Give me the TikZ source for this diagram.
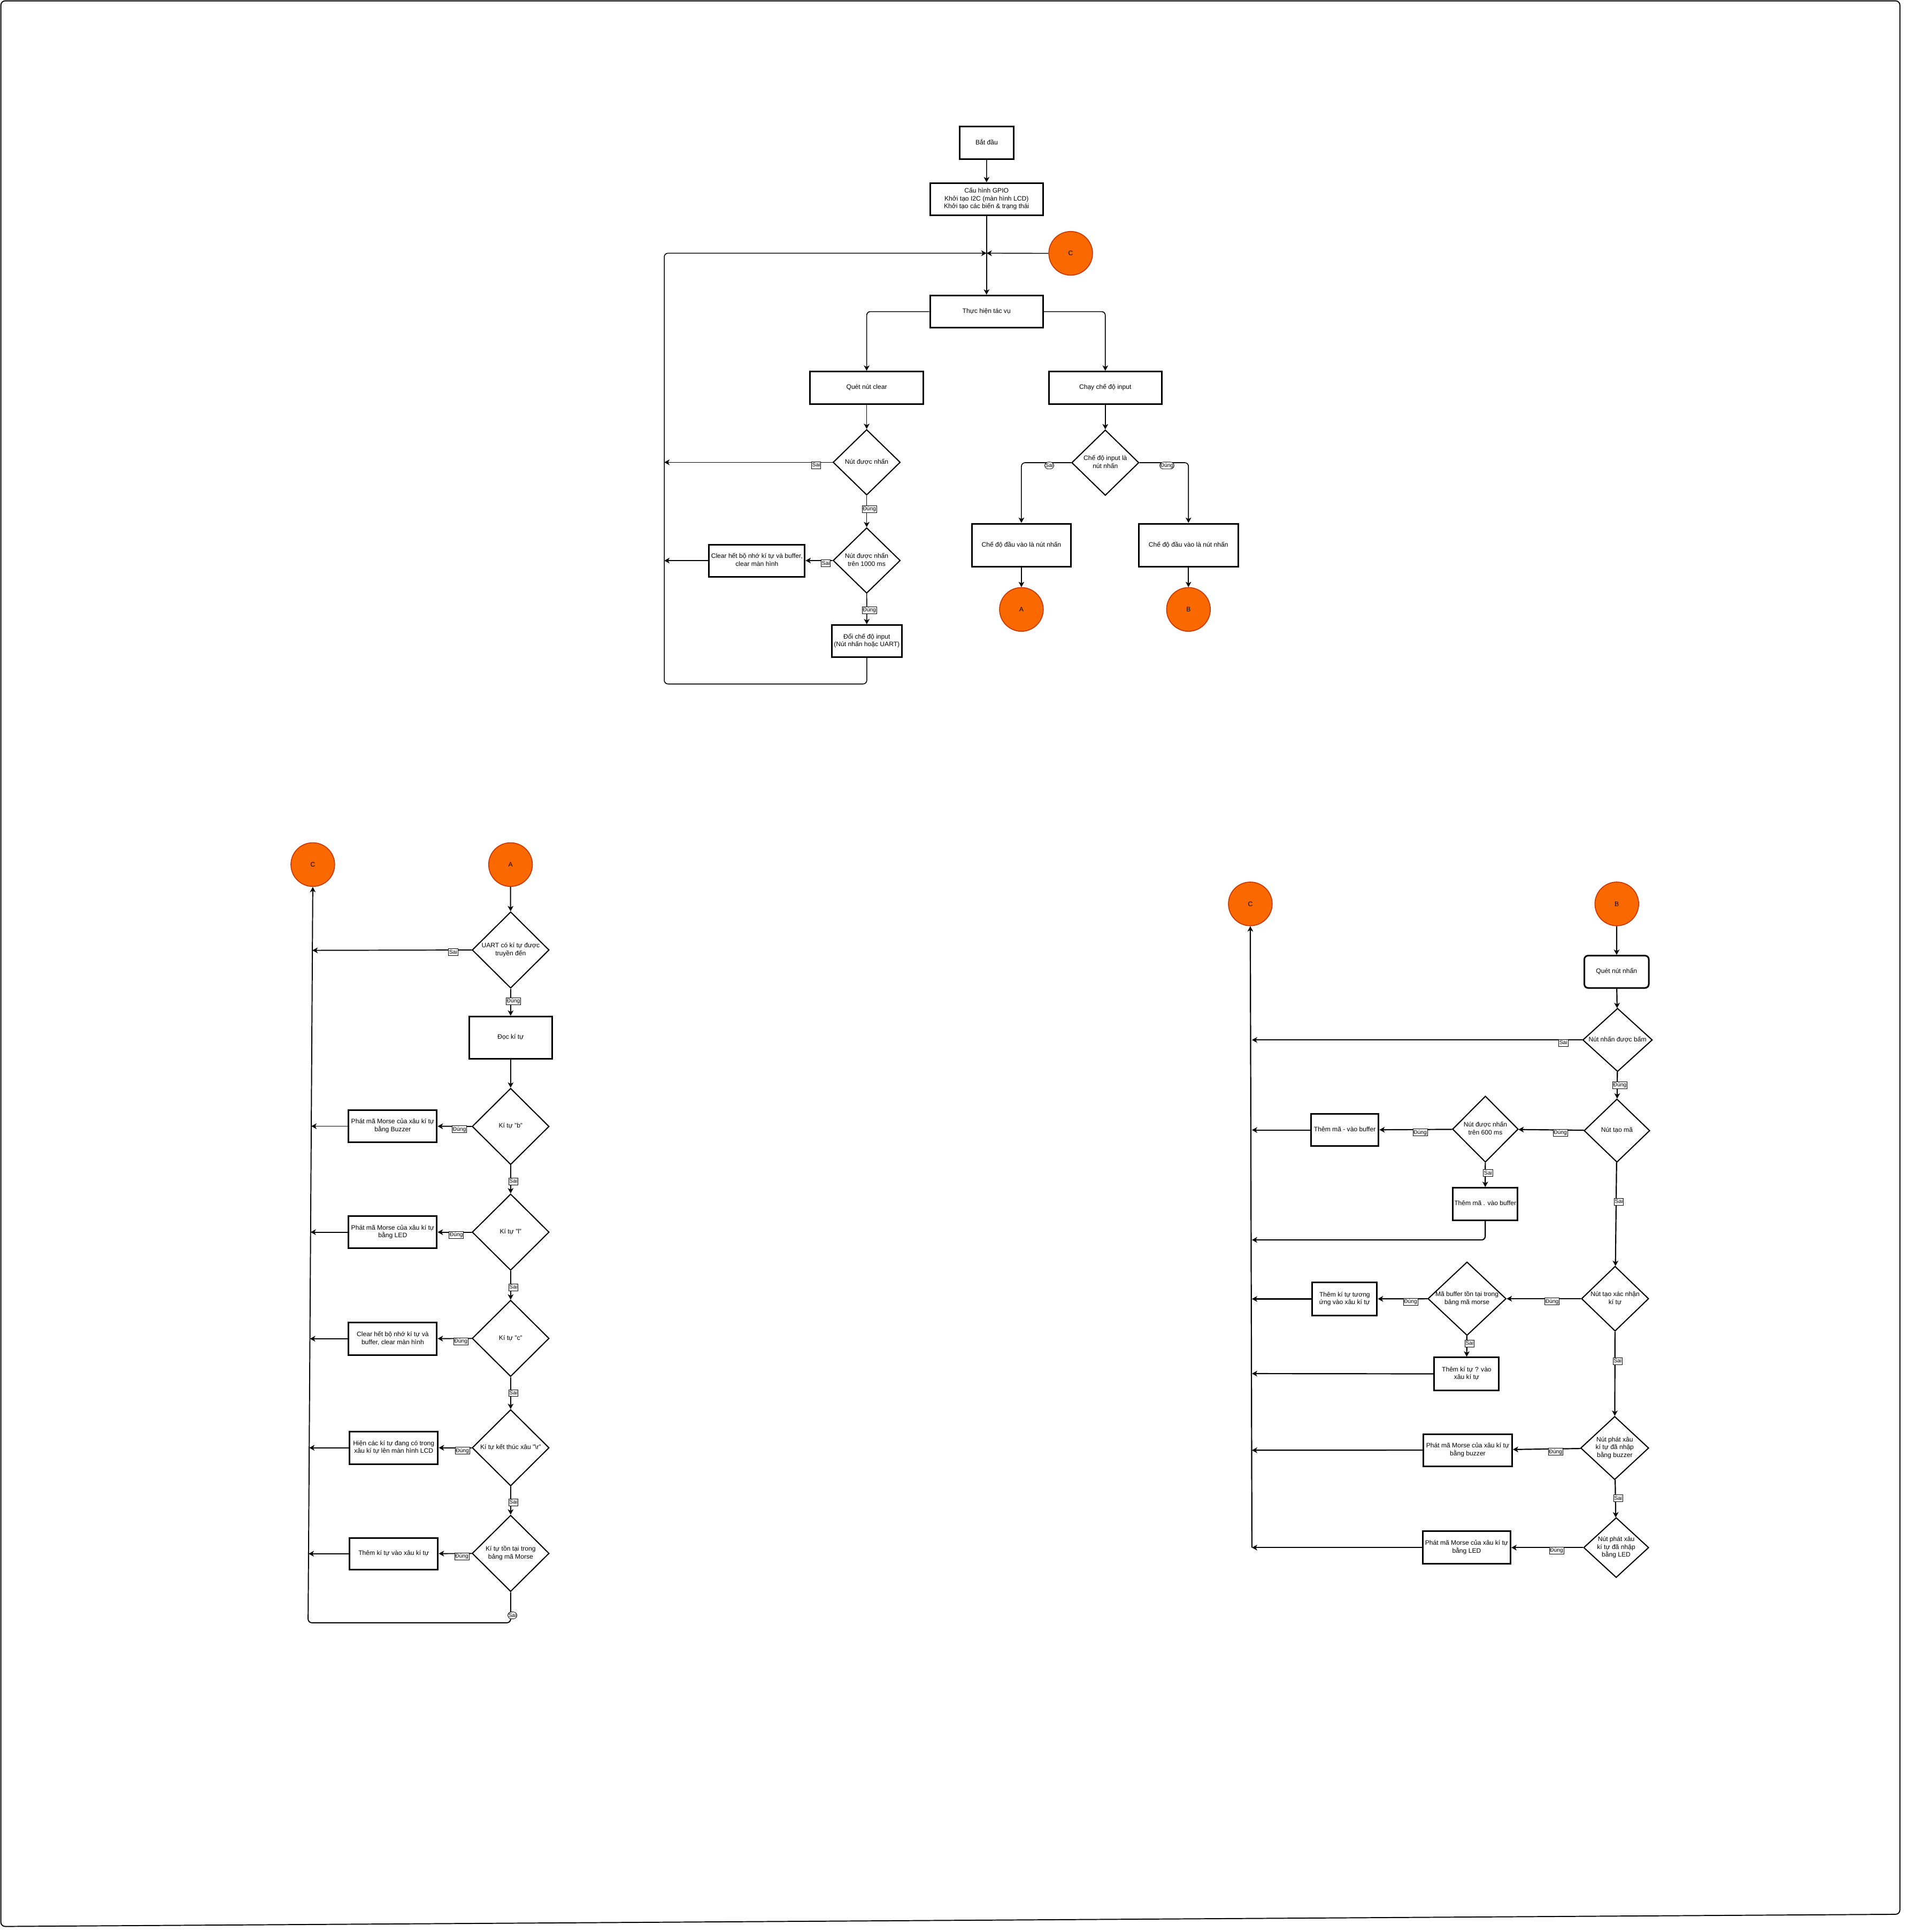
\documentclass[tikz,border=0pt]{standalone}
\usepackage{fontspec}
\setmainfont{Liberation Sans}
\usetikzlibrary{shapes.geometric,arrows.meta,calc}

\definecolor{corange}{HTML}{FA6800}
\definecolor{cbord}{HTML}{C73500}

% centred multi-line text of zero width, so shapes keep their set size
\newcommand{\ntx}[1]{\makebox[0pt]{\begin{tabular}{@{}c@{}}#1\end{tabular}}}

\tikzset{
  base/.style={font=\fontsize{5.25}{6.3}\selectfont, inner sep=0pt},
  box/.style={base, draw, line width=1.3pt, fill=white},
  rbox/.style={box, rounded corners=3pt},
  diam/.style={base, diamond, draw, line width=0.9pt, fill=white},
  circ/.style={base, circle, draw=cbord, fill=corange, line width=0.7pt, minimum size=35.5pt},
  arr/.style={-{Stealth[length=4.3pt,width=4.6pt,inset=1.2pt]}, line width=0.7pt},
  arrB/.style={arr, line width=0.85pt},
  arrR/.style={arr, line width=0.95pt},
  lbl/.style={draw, fill=white, line width=0.35pt, inner sep=0.5pt,
    text height=3.6pt, text depth=1.0pt, font=\fontsize{4.5}{5}\selectfont},
  hl/.style={lbl, yshift=-2.3pt},
  vl/.style={lbl, xshift=2.2pt},
}

\begin{document}
\begin{tikzpicture}[x=1pt, y=-1pt]
\useasboundingbox (0,0) rectangle (1547,1568);

% outer frame
\draw[line width=0.85pt] (0.7,0.7) [rounded corners=3.5pt] -- (1542.2,0.7) -- (1542.2,1553.6) -- (0.7,1563.5) -- cycle;

% ---------------- main loop ----------------
\node[box, minimum width=43.8pt, minimum height=26.4pt] (start) at (800.9,116) {\ntx{Bắt đầu}};
\node[box, minimum width=91.7pt, minimum height=26.2pt] (cfg) at (800.8,161.7)
  {\ntx{Cấu hình GPIO\\Khởi tạo I2C (màn hình LCD)\\Khởi tạo các biến \& trạng thái}};
\node[circ] (cT) at (869.1,205.6) {C};
\node[box, minimum width=91.7pt, minimum height=26.2pt] (thuc) at (800.8,252.9) {\ntx{Thực hiện tác vụ}};
\node[box, minimum width=91.7pt, minimum height=26.3pt] (quet) at (703.5,314.7) {\ntx{Quét nút clear}};
\node[box, minimum width=91.5pt, minimum height=26.3pt] (chay) at (897.2,314.7) {\ntx{Chạy chế độ input}};
\node[diam, minimum width=54.6pt, minimum height=53.2pt] (d1) at (703.5,375.2) {\ntx{Nút được nhấn}};
\node[diam, minimum width=54.6pt, minimum height=53.2pt] (d2) at (703.5,454.9) {\ntx{Nút được nhấn\\trên 1000 ms}};
\node[box, minimum width=77.6pt, minimum height=26pt] (clr) at (614.4,455) {\ntx{Clear hết bộ nhớ kí tự và buffer,\\clear màn hình}};
\node[box, minimum width=56.9pt, minimum height=26pt] (doi) at (703.6,520.3) {\ntx{Đổi chế độ input\\(Nút nhấn hoặc UART)}};
\node[diam, minimum width=54.6pt, minimum height=53.2pt] (d3) at (897.2,375.5) {\ntx{Chế độ input là\\nút nhấn}};
\node[box, minimum width=80.5pt, minimum height=35pt] (lb) at (829.1,442.5) {\ntx{Chế độ đầu vào là nút nhấn}};
\node[box, minimum width=80.5pt, minimum height=35pt] (rb) at (964.7,442.5) {\ntx{Chế độ đầu vào là nút nhấn}};
\node[circ] (cA) at (829.1,494.6) {A};
\node[circ] (cB) at (964.7,494.6) {B};

\coordinate (J) at (800.8,205.5);
\coordinate (lpA) at (703.6,555.1);
\coordinate (lpB) at (539.2,555.1);
\coordinate (lpC) at (539.2,205.5);
\coordinate (t1) at (539.2,375.2);
\coordinate (t2) at (539.2,455);

\draw[arr] (start) -- (cfg);
\draw[arr] (cfg) -- (thuc);
\draw[arr] (cT.west) -- (J);
\draw[arr, rounded corners=3pt] (doi.south) -- (lpA) -- (lpB) -- (lpC) -- (J);
\draw[arr, rounded corners=3pt] (thuc.west) -| (quet.north);
\draw[arr, rounded corners=3pt] (thuc.east) -| (chay.north);
\draw[arr] (quet) -- (d1);
\draw[arr] (d1.west) -- node[hl, pos=0.097] {Sai} (t1);
\draw[arr] (d1) -- node[vl, pos=0.43] {Đúng} (d2);
\draw[arr] (d2) -- node[hl, pos=0.25] {Sai} (clr);
\draw[arr] (clr.west) -- (t2);
\draw[arr] (d2) -- node[vl, pos=0.536] {Đúng} (doi);
\draw[arr] (chay) -- (d3);
\draw[arr, rounded corners=3pt] (d3.west) -| node[hl, pos=0.22] {Sai} (lb.north);
\draw[arr, rounded corners=3pt] (d3.east) -| node[hl, pos=0.28] {Đúng} (rb.north);
\draw[arr] (lb) -- (cA);
\draw[arr] (rb) -- (cB);

% ---------------- UART input (A) ----------------
\node[circ] (cC2) at (253.9,701.7) {C};
\node[circ] (cA2) at (414.4,701.7) {A};
\node[diam, minimum width=62.5pt, minimum height=62pt] (uart) at (414.5,771) {\ntx{UART có kí tự được\\truyền đến}};
\node[box, minimum width=67pt, minimum height=34.4pt] (read) at (414.5,842.2) {\ntx{Đọc kí tự}};
\node[diam, minimum width=62.5pt, minimum height=62pt] (db) at (414.5,914.2) {\ntx{Kí tự "b"}};
\node[box, minimum width=71.6pt, minimum height=26pt] (bz) at (318.8,914) {\ntx{Phát mã Morse của xâu kí tự\\bằng Buzzer}};
\node[diam, minimum width=62.5pt, minimum height=62pt] (dl) at (414.5,1000) {\ntx{Kí tự "l"}};
\node[box, minimum width=71.6pt, minimum height=26pt] (led) at (318.8,1000) {\ntx{Phát mã Morse của xâu kí tự\\bằng LED}};
\node[diam, minimum width=62.5pt, minimum height=62pt] (dc) at (414.5,1086.2) {\ntx{Kí tự "c"}};
\node[box, minimum width=71.6pt, minimum height=26.5pt] (clr2) at (318.8,1086.5) {\ntx{Clear hết bộ nhớ kí tự và\\buffer, clear màn hình}};
\node[diam, minimum width=62.5pt, minimum height=62pt] (dr) at (414.5,1175) {\ntx{Kí tự kết thúc xâu "\textbackslash r"}};
\node[box, minimum width=71.8pt, minimum height=26.3pt] (lcd) at (319.6,1175) {\ntx{Hiện các kí tự đang có trong\\xâu kí tự lên màn hình LCD}};
\node[diam, minimum width=62.5pt, minimum height=62pt] (dm) at (414.5,1260.7) {\ntx{Kí tự tồn tại trong\\bảng mã Morse}};
\node[box, minimum width=71.8pt, minimum height=25.7pt] (addc) at (319.6,1261) {\ntx{Thêm kí tự vào xâu kí tự}};

\coordinate (v1) at (253.6,771.3);
\coordinate (v2) at (252.7,914);
\coordinate (v3) at (252.1,1000);
\coordinate (v4) at (251.6,1086.5);
\coordinate (v5) at (251.0,1175);
\coordinate (v6) at (250.5,1261);
\coordinate (lbA) at (414.5,1317);
\coordinate (lbB) at (250.1,1317);

\draw[arrB] (cA2) -- (uart);
\draw[arrB] (uart.west) -- node[hl, pos=0.116, yshift=0.5pt] {Sai} (v1);
\draw[arrB] (uart) -- node[vl, pos=0.465] {Đúng} (read);
\draw[arrB] (read) -- (db);
\draw[arrB] (db) -- node[hl, pos=0.36] {Đúng} (bz);
\draw[arrB] (bz.west) -- (v2);
\draw[arrB] (db) -- node[vl, pos=0.58] {Sai} (dl);
\draw[arrB] (dl) -- node[hl, pos=0.45] {Đúng} (led);
\draw[arrB] (led.west) -- (v3);
\draw[arrB] (dl) -- node[vl, pos=0.57] {Sai} (dc);
\draw[arrB] (dc) -- node[hl, pos=0.32] {Đúng} (clr2);
\draw[arrB] (clr2.west) -- (v4);
\draw[arrB] (dc) -- node[vl, pos=0.5] {Sai} (dr);
\draw[arrB] (dr) -- node[hl, pos=0.28] {Đúng} (lcd);
\draw[arrB] (lcd.west) -- (v5);
\draw[arrB] (dr) -- node[vl, pos=0.56] {Sai} (dm);
\draw[arrB] (dm) -- node[hl, pos=0.3] {Đúng} (addc);
\draw[arrB] (addc.west) -- (v6);
\draw[arrB, rounded corners=3pt] (dm.south) -- node[lbl, pos=0.76, xshift=1.4pt] {Sai} (lbA) -- (lbB) -- (cC2.south);

% ---------------- push-button input (B) ----------------
\node[circ] (cC3) at (1014.9,733.6) {C};
\node[circ] (cB3) at (1312.4,733.6) {B};
\node[rbox, minimum width=52.3pt, minimum height=26.2pt] (q) at (1312.2,788.7) {\ntx{Quét nút nhấn}};
\node[diam, minimum width=56.5pt, minimum height=51.4pt] (dp) at (1313,844) {\ntx{Nút nhấn được bấm}};
\node[diam, minimum width=53.4pt, minimum height=51.4pt] (dtm) at (1312.5,917.6) {\ntx{Nút tạo mã}};
\node[diam, minimum width=53.4pt, minimum height=53.7pt] (d600) at (1205.7,916.4) {\ntx{Nút được nhấn\\trên 600 ms}};
\node[box, minimum width=54.9pt, minimum height=26.3pt] (tm1) at (1091.6,917.1) {\ntx{Thêm mã - vào buffer}};
\node[box, minimum width=52.3pt, minimum height=26.4pt] (tm2) at (1205.6,977.2) {\ntx{Thêm mã . vào buffer}};
\node[diam, minimum width=54.6pt, minimum height=52.7pt] (dxn) at (1311,1054) {\ntx{Nút tạo xác nhận\\kí tự}};
\node[diam, minimum width=63.5pt, minimum height=59.7pt] (dmb) at (1190.8,1054) {\ntx{Mã buffer tồn tại trong\\bảng mã morse}};
\node[box, minimum width=52.5pt, minimum height=26.9pt] (tkt) at (1091.5,1054.2) {\ntx{Thêm kí tự tương\\ứng vào xâu kí tự}};
\node[box, minimum width=52.5pt, minimum height=26.6pt] (tq) at (1190.5,1115) {\ntx{Thêm kí tự ? vào\\xâu kí tự}};
\node[diam, minimum width=55.3pt, minimum height=51.4pt] (dbz) at (1310.7,1175.2) {\ntx{Nút phát xâu\\kí tự đã nhập\\bằng buzzer}};
\node[box, minimum width=72pt, minimum height=26pt] (pbz) at (1191.4,1176.9) {\ntx{Phát mã Morse của xâu kí tự\\bằng buzzer}};
\node[diam, minimum width=52.9pt, minimum height=48.7pt] (dled) at (1311.9,1256) {\ntx{Nút phát xâu\\kí tự đã nhập\\bằng LED}};
\node[box, minimum width=71.3pt, minimum height=26.5pt] (pled) at (1190.5,1256) {\ntx{Phát mã Morse của xâu kí tự\\bằng LED}};

\coordinate (r1) at (1016.2,844);
\coordinate (r2) at (1016.2,917.1);
\coordinate (r3) at (1016.2,1006.3);
\coordinate (r4) at (1016.2,1054.2);
\coordinate (r5) at (1016.2,1114.8);
\coordinate (r6) at (1016.2,1177);
\coordinate (r7) at (1016.2,1256);
\coordinate (rc) at (1205.6,1006.3);

\draw[arrR] (cB3) -- (q);
\draw[arrR] (q) -- (dp);
\draw[arrR] (dp.west) -- node[hl, pos=0.057] {Sai} (r1);
\draw[arrR] (dp) -- node[vl, pos=0.49] {Đúng} (dtm);
\draw[arrR] (dtm) -- node[hl, pos=0.36] {Đúng} (d600);
\draw[arrR] (d600) -- node[hl, pos=0.44] {Đúng} (tm1);
\draw[arrR] (tm1.west) -- (r2);
\draw[arrR] (d600) -- node[vl, pos=0.43] {Sai} (tm2);
\draw[arrR, rounded corners=3pt] (tm2.south) -- (rc) -- (r3);
\draw[arrR] (dtm) -- node[vl, pos=0.38] {Sai} (dxn);
\draw[arrR] (dxn) -- node[hl, pos=0.39] {Đúng} (dmb);
\draw[arrR] (dmb) -- node[hl, pos=0.34] {Đúng} (tkt);
\draw[arrR] (tkt.west) -- (r4);
\draw[arrR] (dmb) -- node[vl, pos=0.37] {Sai} (tq);
\draw[arrR] (tq.west) -- (r5);
\draw[arrR] (dxn) -- node[vl, pos=0.35] {Sai} (dbz);
\draw[arrR] (dbz) -- node[hl, pos=0.37] {Đúng} (pbz);
\draw[arrR] (pbz.west) -- (r6);
\draw[arrR] (dbz) -- node[vl, pos=0.49] {Sai} (dled);
\draw[arrR] (dled) -- node[hl, pos=0.37] {Đúng} (pled);
\draw[arrR] (pled.west) -- (r7);
\draw[arrR] (r7) -- (cC3.south);

\end{tikzpicture}
\end{document}
